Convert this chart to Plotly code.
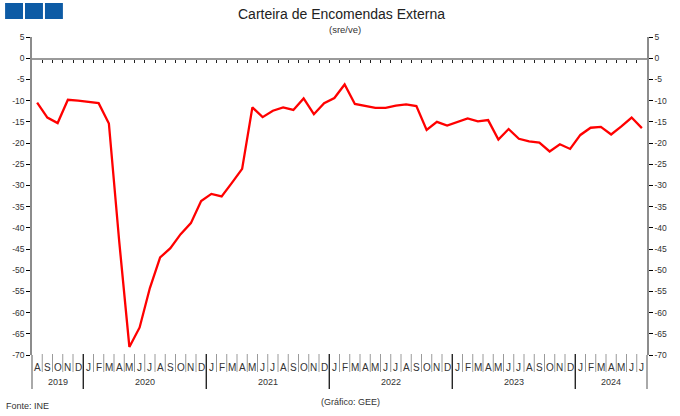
import plotly.graph_objects as go

# ---- data ----
month_letters = (["A", "S", "O", "N", "D"]
                 + ["J", "F", "M", "A", "M", "J", "J", "A", "S", "O", "N", "D"] * 4
                 + ["J", "F", "M", "A", "M", "J", "J"])
years = ["2019", "2020", "2021", "2022", "2023", "2024"]
year_months = [5, 12, 12, 12, 12, 7]
values = [
    # 2019 Aug-Dec
    -10.5, -14.0, -15.3, -9.8, -10.0,
    # 2020
    -10.3, -10.6, -15.4, -43.0, -68.1, -63.5, -54.2, -47.0, -44.8, -41.5, -38.9, -33.7,
    # 2021
    -32.0, -32.6, -29.4, -26.1, -11.6, -13.9, -12.4, -11.6, -12.2, -9.5, -13.2, -10.6,
    # 2022
    -9.4, -6.2, -10.8, -11.2, -11.7, -11.7, -11.2, -10.9, -11.3, -16.9, -15.0, -15.9,
    # 2023
    -15.1, -14.2, -14.9, -14.6, -19.2, -16.7, -19.0, -19.6, -19.9, -22.0, -20.3, -21.4,
    # 2024 Jan-Jul
    -18.1, -16.4, -16.2, -18.0, -16.1, -14.0, -16.5,
]
y_ticks = list(range(5, -75, -5))
title = "Carteira de Encomendas Externa"
subtitle = "(sre/ve)"
source = "Fonte: INE"
credit = "(Gráfico: GEE)"

n = len(values)
xs = list(range(n))
FONT = "Liberation Sans, Arial, sans-serif"
W, H = 680, 416
ML, MR, MT, MB = 30, 33, 37, 61
plot_h = H - MT - MB

def py(px):
    """pixel y (from top) -> paper y"""
    return (H - MB - px) / plot_h

def px_x(x):
    return (x - ML) / (W - ML - MR)

fig = go.Figure()
fig.add_trace(go.Scatter(x=xs, y=values, mode="lines",
                         line=dict(color="#ff0000", width=2.3),
                         showlegend=False, hoverinfo="y"))
fig.add_trace(go.Scatter(x=xs, y=values, mode="lines", yaxis="y2",
                         line=dict(color="rgba(0,0,0,0)", width=0),
                         showlegend=False, hoverinfo="skip"))

yax = dict(range=[-70, 5], tickmode="array", tickvals=y_ticks,
           ticktext=[str(v) for v in y_ticks],
           showgrid=False, zeroline=False, showline=True,
           linecolor="#8c8c8c", linewidth=1.5,
           ticks="outside", ticklen=4, tickcolor="#000", tickwidth=1,
           tickfont=dict(family=FONT, size=8.5, color="#333"))

fig.update_layout(
    width=W, height=H,
    margin=dict(l=ML, r=MR, t=MT, b=MB),
    paper_bgcolor="white", plot_bgcolor="white",
    xaxis=dict(range=[-0.5, n - 0.5], anchor="free", position=py(58.5),
               showgrid=False, zeroline=False, showline=True,
               linecolor="#9a9a9a", linewidth=2,
               tickmode="array", tickvals=[i + 0.5 for i in range(n - 1)],
               ticks="outside", ticklen=3, tickcolor="#222", tickwidth=1,
               showticklabels=False),
    yaxis=yax,
    yaxis2=dict(yax, overlaying="y", side="right"),
)

shapes = []
annotations = []
# logo squares
for i in range(3):
    shapes.append(dict(type="rect", xref="paper", yref="paper",
                       x0=px_x(3 + 20 * i), x1=px_x(21 + 20 * i),
                       y0=py(19), y1=py(3), fillcolor="#0d5ba5", line=dict(width=0)))
# axis extensions below -70
for xp in [0, 1]:
    shapes.append(dict(type="line", xref="paper", yref="paper",
                       x0=xp, x1=xp, y0=py(355), y1=py(389),
                       line=dict(color="#8c8c8c", width=1.5)))
# month separators and letters
idx = 0
year_starts = set()
for cnt in year_months:
    idx += cnt
    year_starts.add(idx)
for i in range(1, n):
    is_year = i in year_starts
    shapes.append(dict(type="line", xref="x", yref="paper",
                       x0=i - 0.5, x1=i - 0.5,
                       y0=py(389 if is_year else 372), y1=py(354),
                       line=dict(color="#000" if is_year else "#9a9a9a",
                                 width=1.2 if is_year else 1)))
for i, m in enumerate(month_letters):
    annotations.append(dict(x=i, y=py(367), xref="x", yref="paper", text=m,
                            showarrow=False, xanchor="center", yanchor="middle",
                            font=dict(family=FONT, size=10, color="#333")))
start = 0
for yl, cnt in zip(years, year_months):
    annotations.append(dict(x=start + (cnt - 1) / 2, y=py(382), xref="x", yref="paper",
                            text=yl, showarrow=False, xanchor="center", yanchor="middle",
                            font=dict(family=FONT, size=9, color="#333")))
    start += cnt

annotations += [
    dict(x=px_x(341), y=py(14), xref="paper", yref="paper", text=title,
         showarrow=False, xanchor="center", yanchor="middle",
         font=dict(family=FONT, size=14, color="#222")),
    dict(x=px_x(344), y=py(30), xref="paper", yref="paper", text=subtitle,
         showarrow=False, xanchor="center", yanchor="middle",
         font=dict(family=FONT, size=9.5, color="#333")),
    dict(x=px_x(2), y=py(406), xref="paper", yref="paper", text=source,
         showarrow=False, xanchor="left", yanchor="middle",
         font=dict(family=FONT, size=9, color="#333")),
    dict(x=px_x(350), y=py(402), xref="paper", yref="paper", text=credit,
         showarrow=False, xanchor="center", yanchor="middle",
         font=dict(family=FONT, size=9, color="#333")),
]
fig.update_layout(shapes=shapes, annotations=annotations)
fig.write_html("out.html")
